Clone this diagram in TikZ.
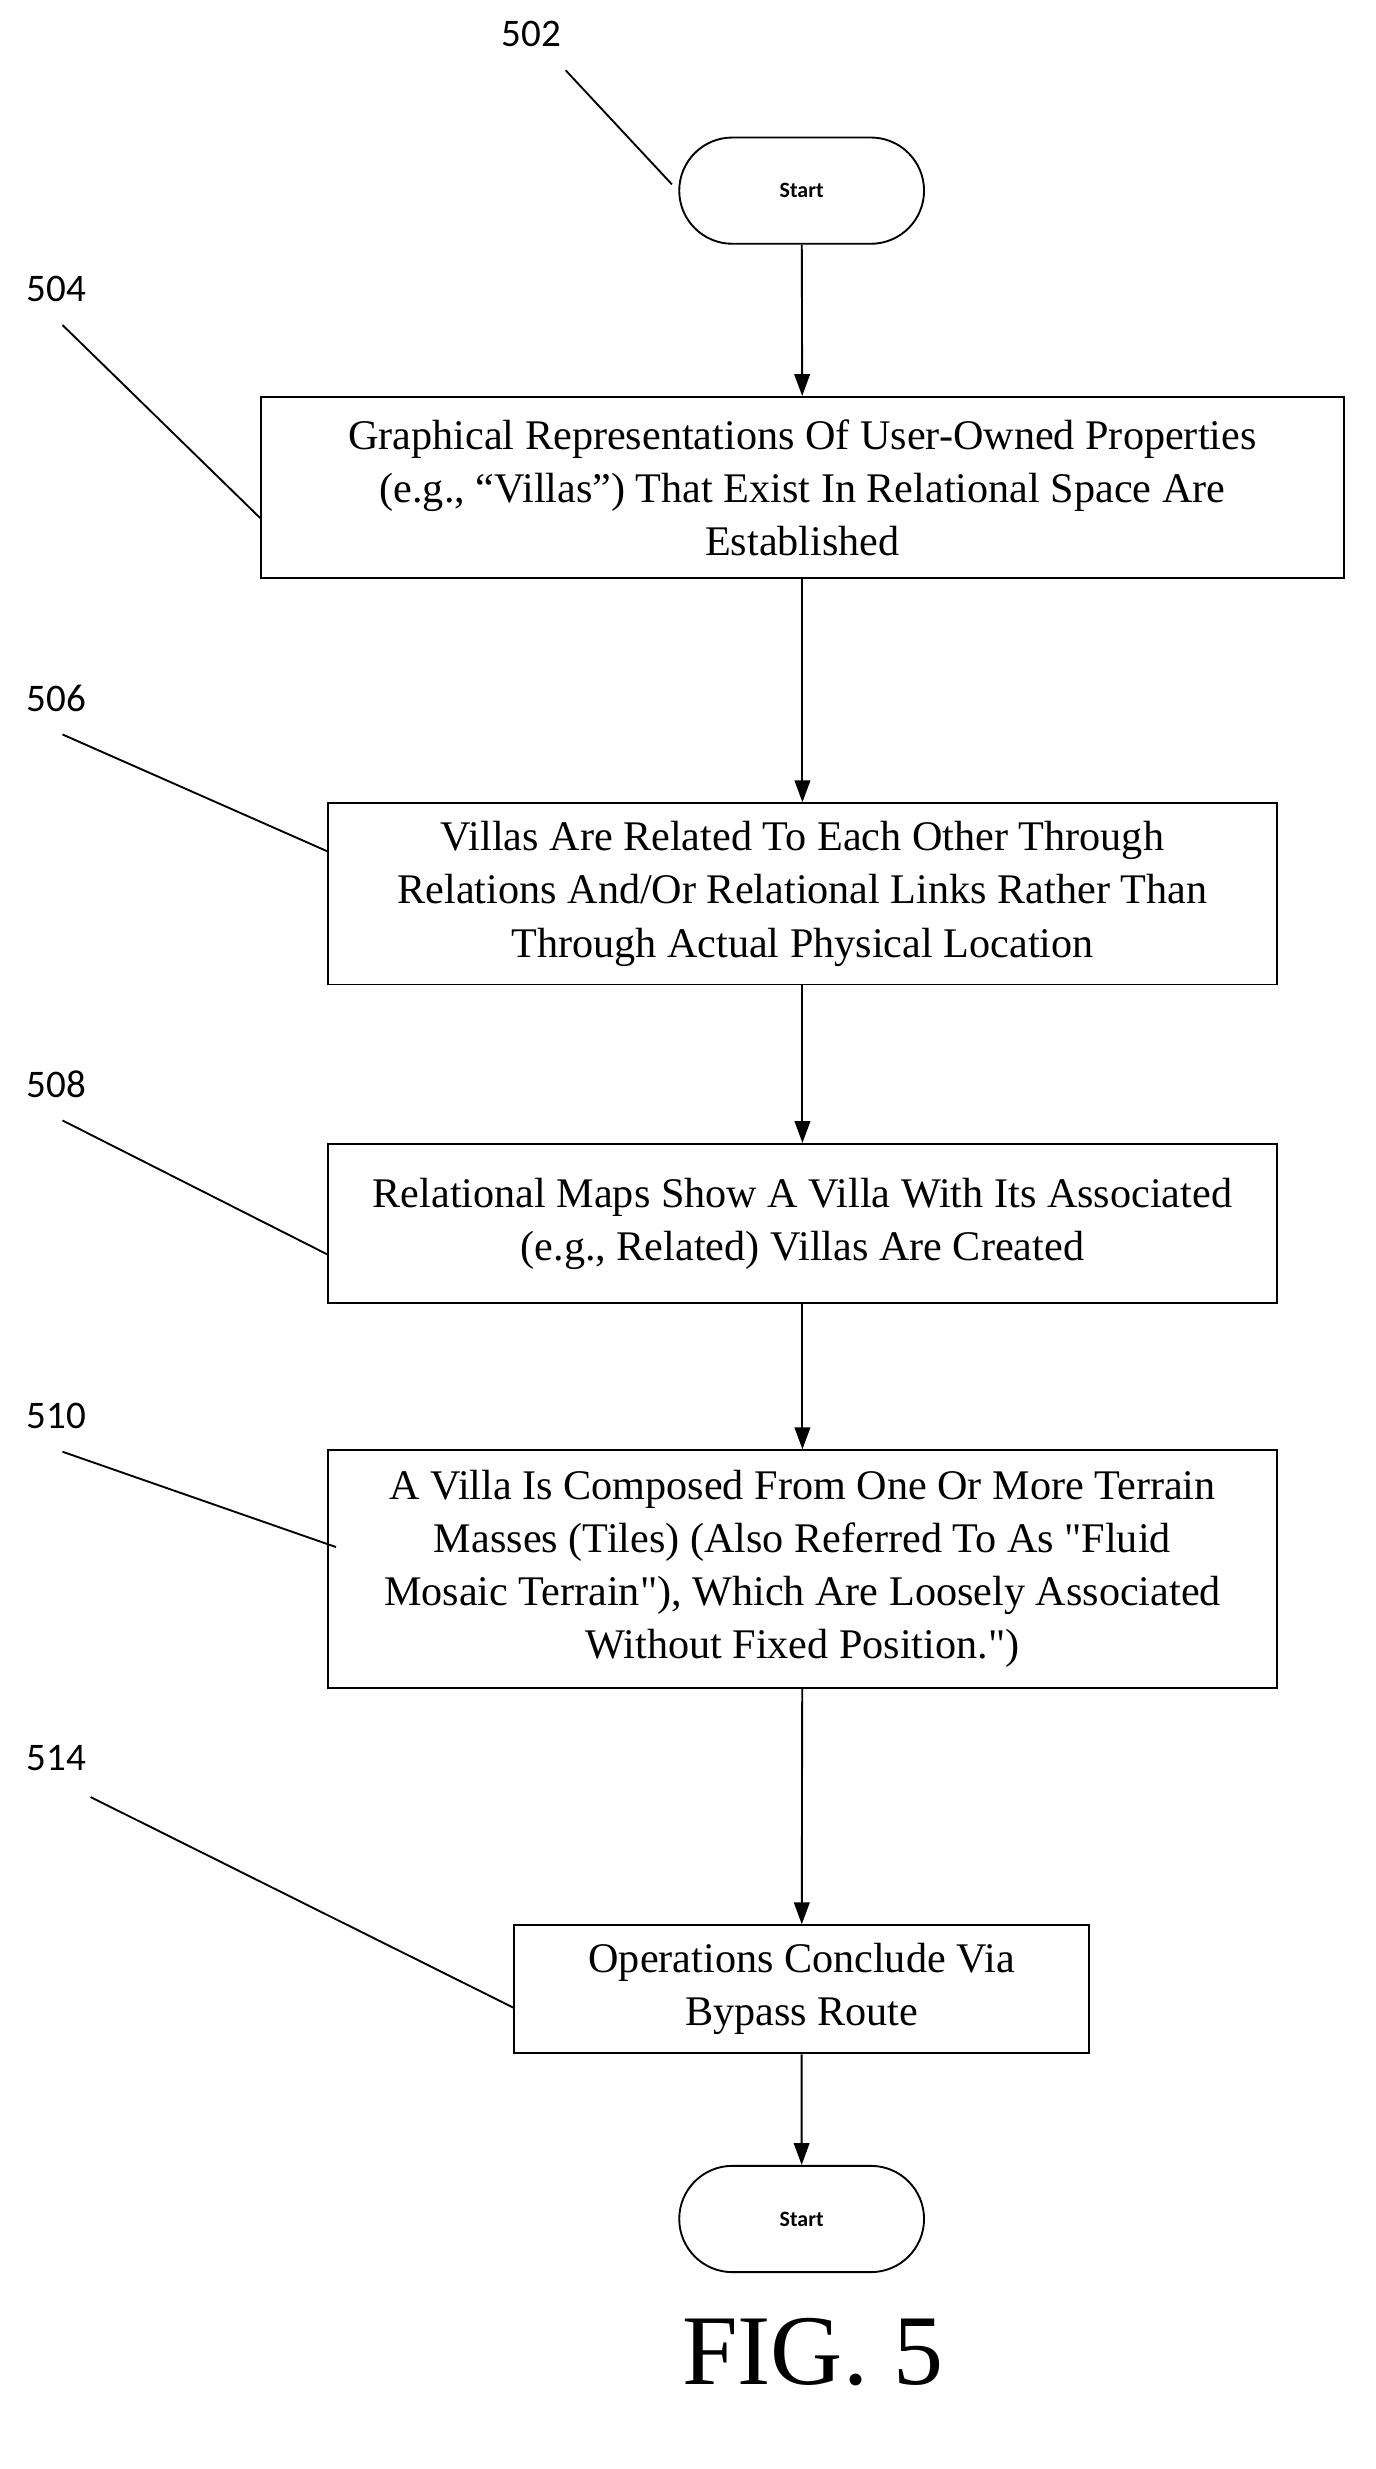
\documentclass[tikz,border=0pt]{standalone}
\usepackage{fontspec}
\setmainfont{Liberation Serif}
\newfontfamily\lblfont{Carlito}
\usetikzlibrary{arrows.meta,shapes.misc}
\begin{document}
\begin{tikzpicture}[x=0.5pt,y=-0.5pt,
 box/.style={draw,line width=0.6pt,align=center,font=\fontsize{13.5}{17}\selectfont,inner sep=0pt},
 term/.style={draw,line width=0.6pt,rounded rectangle,minimum width=85pt,minimum height=34pt,font=\lblfont\bfseries\fontsize{7}{8}\selectfont},
 lbl/.style={font=\lblfont\fontsize{12.5}{13}\selectfont},
 arr/.style={-{Triangle[length=7pt,width=5pt]},line width=0.6pt},
 lead/.style={line width=0.6pt}]
\useasboundingbox (0,0) rectangle (880,1580);
\node[term] (s) at (513,122) {Start};
\node[box,minimum width=346.5pt,minimum height=58pt] (b504) at (513.5,312) {Graphical Representations Of User-Owned Properties\\(e.g., “Villas”) That Exist In Relational Space Are\\Established};
\node[box,minimum width=303.5pt,minimum height=58pt] (b506) at (513.5,572) {Villas Are Related To Each Other Through\\Relations And/Or Relational Links Rather Than\\Through Actual Physical Location};
\node[box,minimum width=303.5pt,minimum height=51pt] (b508) at (513.5,783) {Relational Maps Show A Villa With Its Associated\\(e.g., Related) Villas Are Created};
\node[box,minimum width=303.5pt,minimum height=76pt] (b510) at (513.5,1004) {A Villa Is Composed From One Or More Terrain\\Masses (Tiles) (Also Referred To As \textquotedbl Fluid\\Mosaic Terrain\textquotedbl), Which Are Loosely Associated\\Without Fixed Position.\textquotedbl)};
\node[box,minimum width=184pt,minimum height=41pt] (b514) at (513,1273) {Operations Conclude Via\\Bypass Route};
\node[term] (e) at (513,1420) {Start};
\draw[arr] (s) -- (b504);
\draw[arr] (b504) -- (b506);
\draw[arr] (b506) -- (b508);
\draw[arr] (b508) -- (b510);
\draw[arr] (b510) -- (b514);
\draw[arr] (b514) -- (e);
\node[lbl] (l502) at (340,22) {502};
\node[lbl] (l504) at (36,185) {504};
\node[lbl] (l506) at (36,447) {506};
\node[lbl] (l508) at (36,694) {508};
\node[lbl] (l510) at (36,906) {510};
\node[lbl] (l514) at (36,1125) {514};
\coordinate (c502) at (430,118);
\coordinate (c504) at (167,332);
\coordinate (c506) at (210,545);
\coordinate (c508) at (210,803);
\coordinate (c510) at (215,990);
\coordinate (c514) at (329,1285);
\draw[lead] (362,45) -- (c502);
\draw[lead] (40,208) -- (c504);
\draw[lead] (40,470) -- (c506);
\draw[lead] (40,717) -- (c508);
\draw[lead] (40,929) -- (c510);
\draw[lead] (58,1150) -- (c514);
\node[font=\fontsize{32}{34}\selectfont] (fig) at (520,1505) {FIG. 5};
\end{tikzpicture}
\end{document}
